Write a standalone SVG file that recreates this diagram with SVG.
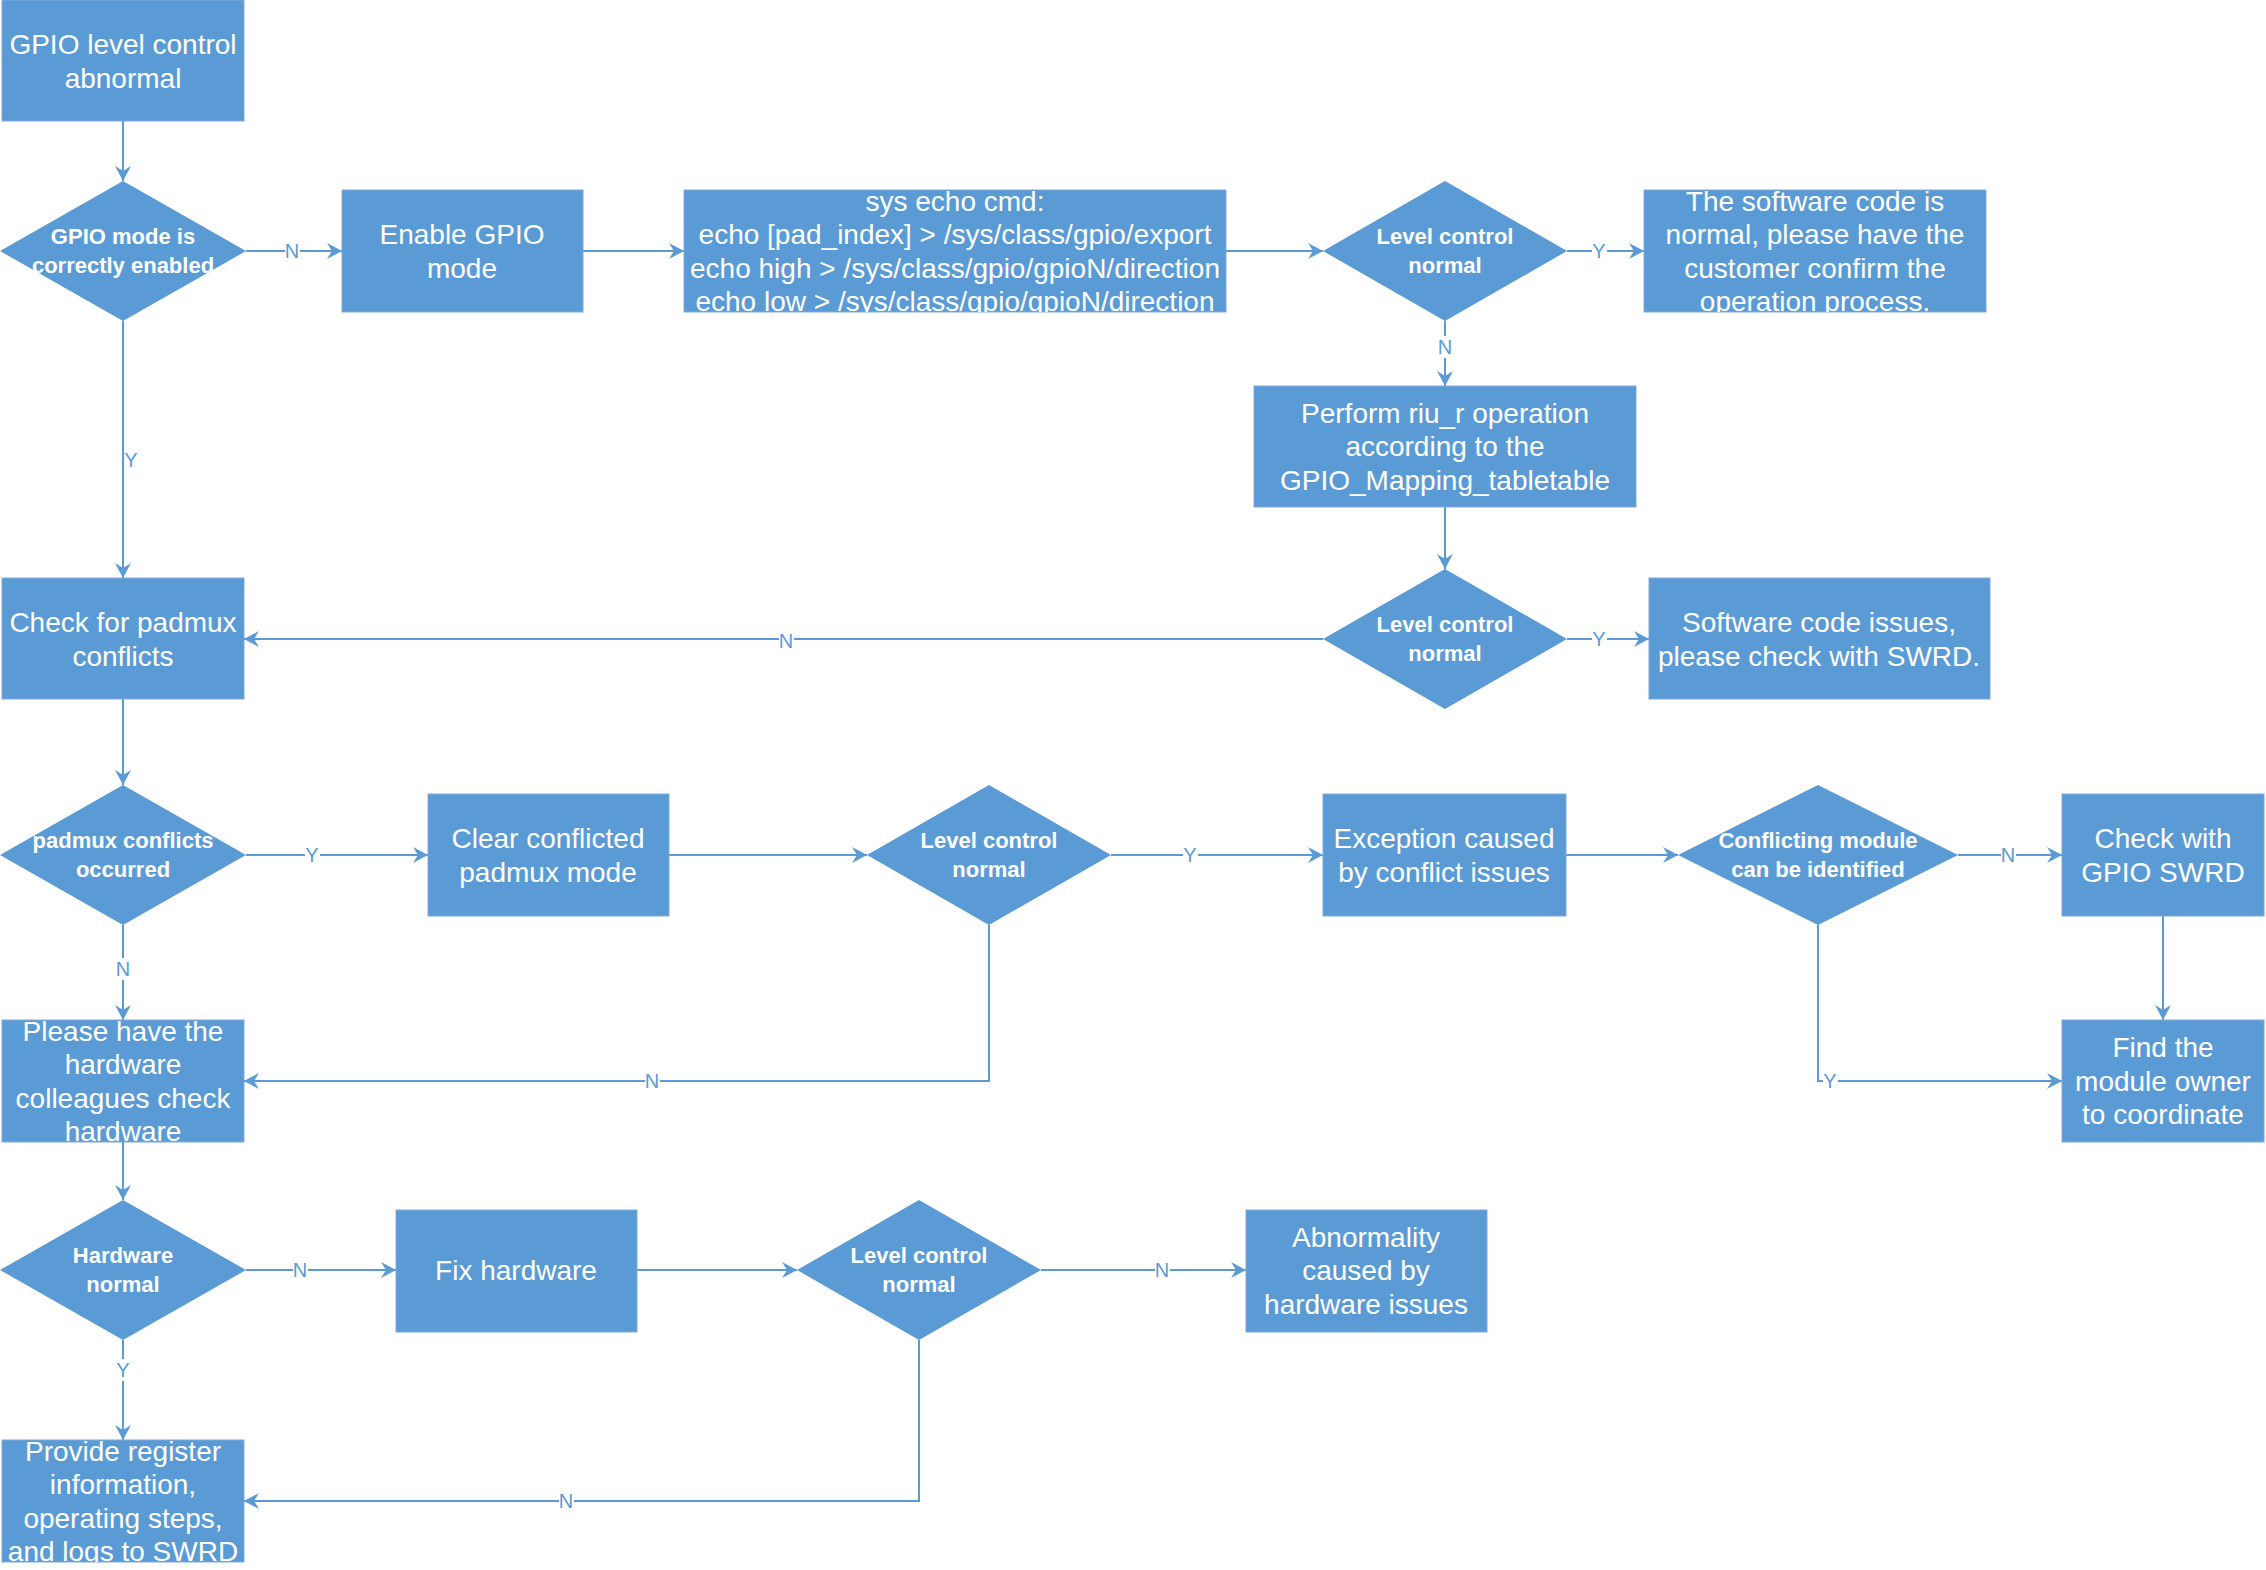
<svg xmlns="http://www.w3.org/2000/svg" width="2266" height="1570" viewBox="0 0 2266 1570">
<style>
.box{fill:#5b9bd5;stroke:#7fa9dc;stroke-width:1}
.dia{fill:#5b9bd5}
.t{font-family:"Liberation Sans",Arial,sans-serif;font-size:28px;fill:#ffffff;text-anchor:middle}
.td{font-family:"Liberation Sans",Arial,sans-serif;font-size:22px;font-weight:bold;fill:#ffffff;text-anchor:middle}
.ln{fill:none;stroke:#5b9bd5;stroke-width:2}
.lb{font-family:"Liberation Sans",Arial,sans-serif;font-size:20px;fill:#5b9bd5;text-anchor:middle}
.lbg{fill:#ffffff}
</style>
<defs>
<marker id="arr" markerUnits="userSpaceOnUse" markerWidth="18" markerHeight="18" refX="16" refY="9" orient="auto">
<path d="M1,1 L16,9 L1,17 L6,9 Z" fill="#5b9bd5"/>
</marker>
<clipPath id="c-sys"><rect x="684" y="190" width="542" height="122"/></clipPath>
<clipPath id="c-swn"><rect x="1644" y="190" width="342" height="122"/></clipPath>
<clipPath id="c-please"><rect x="2" y="1020" width="242" height="122"/></clipPath>
<clipPath id="c-provide"><rect x="2" y="1440" width="242" height="122"/></clipPath>
</defs>
<rect width="2266" height="1570" fill="#ffffff"/>

<g id="connectors">
<path class="ln" d="M123,121 L123,181" marker-end="url(#arr)"/>
<path class="ln" d="M246,251 L342,251" marker-end="url(#arr)"/>
<path class="ln" d="M583,251 L684,251" marker-end="url(#arr)"/>
<path class="ln" d="M1226,251 L1323,251" marker-end="url(#arr)"/>
<path class="ln" d="M1567,251 L1644,251" marker-end="url(#arr)"/>
<path class="ln" d="M1445,321 L1445,386" marker-end="url(#arr)"/>
<path class="ln" d="M1445,507 L1445,569" marker-end="url(#arr)"/>
<path class="ln" d="M1567,639 L1649,639" marker-end="url(#arr)"/>
<path class="ln" d="M1323,639 L244,639" marker-end="url(#arr)"/>
<path class="ln" d="M123,321 L123,578" marker-end="url(#arr)"/>
<path class="ln" d="M123,699 L123,785" marker-end="url(#arr)"/>
<path class="ln" d="M246,855 L428,855" marker-end="url(#arr)"/>
<path class="ln" d="M669,855 L867,855" marker-end="url(#arr)"/>
<path class="ln" d="M1111,855 L1323,855" marker-end="url(#arr)"/>
<path class="ln" d="M989,925 L989,1081 L244,1081" marker-end="url(#arr)"/>
<path class="ln" d="M123,925 L123,1020" marker-end="url(#arr)"/>
<path class="ln" d="M1566,855 L1678,855" marker-end="url(#arr)"/>
<path class="ln" d="M1958,855 L2062,855" marker-end="url(#arr)"/>
<path class="ln" d="M2163,916 L2163,1020" marker-end="url(#arr)"/>
<path class="ln" d="M1818,925 L1818,1081 L2062,1081" marker-end="url(#arr)"/>
<path class="ln" d="M123,1142 L123,1200" marker-end="url(#arr)"/>
<path class="ln" d="M246,1270 L396,1270" marker-end="url(#arr)"/>
<path class="ln" d="M637,1270 L797,1270" marker-end="url(#arr)"/>
<path class="ln" d="M1041,1270 L1246,1270" marker-end="url(#arr)"/>
<path class="ln" d="M123,1340 L123,1440" marker-end="url(#arr)"/>
<path class="ln" d="M919,1340 L919,1501 L244,1501" marker-end="url(#arr)"/>

<g id="labels">
<rect class="lbg" x="285" y="240" width="15" height="22"/><text class="lb" x="292" y="258">N</text>
<rect class="lbg" x="1592" y="240" width="15" height="22"/><text class="lb" x="1599" y="258">Y</text>
<rect class="lbg" x="1438" y="336" width="15" height="22"/><text class="lb" x="1445" y="354">N</text>
<rect class="lbg" x="1592" y="628" width="15" height="22"/><text class="lb" x="1599" y="646">Y</text>
<rect class="lbg" x="779" y="630" width="15" height="22"/><text class="lb" x="786" y="648">N</text>
<rect class="lbg" x="124" y="449" width="14" height="22"/><text class="lb" x="131" y="467">Y</text>
<rect class="lbg" x="305" y="844" width="15" height="22"/><text class="lb" x="312" y="862">Y</text>
<rect class="lbg" x="1183" y="844" width="15" height="22"/><text class="lb" x="1190" y="862">Y</text>
<rect class="lbg" x="645" y="1070" width="15" height="22"/><text class="lb" x="652" y="1088">N</text>
<rect class="lbg" x="116" y="958" width="15" height="22"/><text class="lb" x="123" y="976">N</text>
<rect class="lbg" x="2001" y="844" width="15" height="22"/><text class="lb" x="2008" y="862">N</text>
<rect class="lbg" x="1823" y="1070" width="15" height="22"/><text class="lb" x="1830" y="1088">Y</text>
<rect class="lbg" x="293" y="1259" width="15" height="22"/><text class="lb" x="300" y="1277">N</text>
<rect class="lbg" x="1155" y="1259" width="15" height="22"/><text class="lb" x="1162" y="1277">N</text>
<rect class="lbg" x="116" y="1359" width="15" height="22"/><text class="lb" x="123" y="1377">Y</text>
<rect class="lbg" x="559" y="1490" width="15" height="22"/><text class="lb" x="566" y="1508">N</text>
</g>
</g>

<g id="n-start">
<rect class="box" x="2" y="0" width="242" height="121"/>
<text class="t" x="123" y="54">GPIO level control</text>
<text class="t" x="123" y="88">abnormal</text>
</g>

<g id="n-mode-enabled">
<polygon class="dia" points="123,181 246,251 123,321 0,251"/>
<text class="td" x="123" y="244">GPIO mode is</text>
<text class="td" x="123" y="273">correctly enabled</text>
</g>

<g id="n-enable">
<rect class="box" x="342" y="190" width="241" height="122"/>
<text class="t" x="462" y="244">Enable GPIO</text>
<text class="t" x="462" y="278">mode</text>
</g>

<g id="n-sys">
<rect class="box" x="684" y="190" width="542" height="122"/>
<g clip-path="url(#c-sys)">
<text class="t" x="955" y="211">sys echo cmd:</text>
<text class="t" x="955" y="244">echo [pad_index] &gt; /sys/class/gpio/export</text>
<text class="t" x="955" y="278">echo high &gt; /sys/class/gpio/gpioN/direction</text>
<text class="t" x="955" y="311">echo low &gt; /sys/class/gpio/gpioN/direction</text>
</g>
</g>

<g id="n-level1">
<polygon class="dia" points="1445,181 1567,251 1445,321 1323,251"/>
<text class="td" x="1445" y="244">Level control</text>
<text class="td" x="1445" y="273">normal</text>
</g>

<g id="n-sw-normal">
<rect class="box" x="1644" y="190" width="342" height="122"/>
<g clip-path="url(#c-swn)">
<text class="t" x="1815" y="211">The software code is</text>
<text class="t" x="1815" y="244">normal, please have the</text>
<text class="t" x="1815" y="278">customer confirm the</text>
<text class="t" x="1815" y="311">operation process.</text>
</g>
</g>

<g id="n-perform">
<rect class="box" x="1254" y="386" width="382" height="121"/>
<text class="t" x="1445" y="423">Perform riu_r operation</text>
<text class="t" x="1445" y="456">according to the</text>
<text class="t" x="1445" y="490">GPIO_Mapping_tabletable</text>
</g>

<g id="n-level2">
<polygon class="dia" points="1445,569 1567,639 1445,709 1323,639"/>
<text class="td" x="1445" y="632">Level control</text>
<text class="td" x="1445" y="661">normal</text>
</g>

<g id="n-sw-issues">
<rect class="box" x="1649" y="578" width="341" height="121"/>
<text class="t" x="1819" y="632">Software code issues,</text>
<text class="t" x="1819" y="666">please check with SWRD.</text>
</g>

<g id="n-check-padmux">
<rect class="box" x="2" y="578" width="242" height="121"/>
<text class="t" x="123" y="632">Check for padmux</text>
<text class="t" x="123" y="666">conflicts</text>
</g>

<g id="n-padmux-occurred">
<polygon class="dia" points="123,785 246,855 123,925 0,855"/>
<text class="td" x="123" y="848">padmux conflicts</text>
<text class="td" x="123" y="877">occurred</text>
</g>

<g id="n-clear">
<rect class="box" x="428" y="794" width="241" height="122"/>
<text class="t" x="548" y="848">Clear conflicted</text>
<text class="t" x="548" y="882">padmux mode</text>
</g>

<g id="n-level3">
<polygon class="dia" points="989,785 1111,855 989,925 867,855"/>
<text class="td" x="989" y="848">Level control</text>
<text class="td" x="989" y="877">normal</text>
</g>

<g id="n-exception">
<rect class="box" x="1323" y="794" width="243" height="122"/>
<text class="t" x="1444" y="848">Exception caused</text>
<text class="t" x="1444" y="882">by conflict issues</text>
</g>

<g id="n-conflicting">
<polygon class="dia" points="1818,785 1958,855 1818,925 1678,855"/>
<text class="td" x="1818" y="848">Conflicting module</text>
<text class="td" x="1818" y="877">can be identified</text>
</g>

<g id="n-check-gpio-swrd">
<rect class="box" x="2062" y="794" width="202" height="122"/>
<text class="t" x="2163" y="848">Check with</text>
<text class="t" x="2163" y="882">GPIO SWRD</text>
</g>

<g id="n-find-owner">
<rect class="box" x="2062" y="1020" width="202" height="122"/>
<text class="t" x="2163" y="1057">Find the</text>
<text class="t" x="2163" y="1091">module owner</text>
<text class="t" x="2163" y="1124">to coordinate</text>
</g>

<g id="n-please">
<rect class="box" x="2" y="1020" width="242" height="122"/>
<g clip-path="url(#c-please)">
<text class="t" x="123" y="1041">Please have the</text>
<text class="t" x="123" y="1074">hardware</text>
<text class="t" x="123" y="1108">colleagues check</text>
<text class="t" x="123" y="1141">hardware</text>
</g>
</g>

<g id="n-hardware-normal">
<polygon class="dia" points="123,1200 246,1270 123,1340 0,1270"/>
<text class="td" x="123" y="1263">Hardware</text>
<text class="td" x="123" y="1292">normal</text>
</g>

<g id="n-fix">
<rect class="box" x="396" y="1210" width="241" height="122"/>
<text class="t" x="516" y="1280">Fix hardware</text>
</g>

<g id="n-level4">
<polygon class="dia" points="919,1200 1041,1270 919,1340 797,1270"/>
<text class="td" x="919" y="1263">Level control</text>
<text class="td" x="919" y="1292">normal</text>
</g>

<g id="n-abnormality">
<rect class="box" x="1246" y="1210" width="241" height="122"/>
<text class="t" x="1366" y="1247">Abnormality</text>
<text class="t" x="1366" y="1280">caused by</text>
<text class="t" x="1366" y="1314">hardware issues</text>
</g>

<g id="n-provide">
<rect class="box" x="2" y="1440" width="242" height="122"/>
<g clip-path="url(#c-provide)">
<text class="t" x="123" y="1461">Provide register</text>
<text class="t" x="123" y="1494">information,</text>
<text class="t" x="123" y="1528">operating steps,</text>
<text class="t" x="123" y="1561">and logs to SWRD</text>
</g>
</g>
</svg>
